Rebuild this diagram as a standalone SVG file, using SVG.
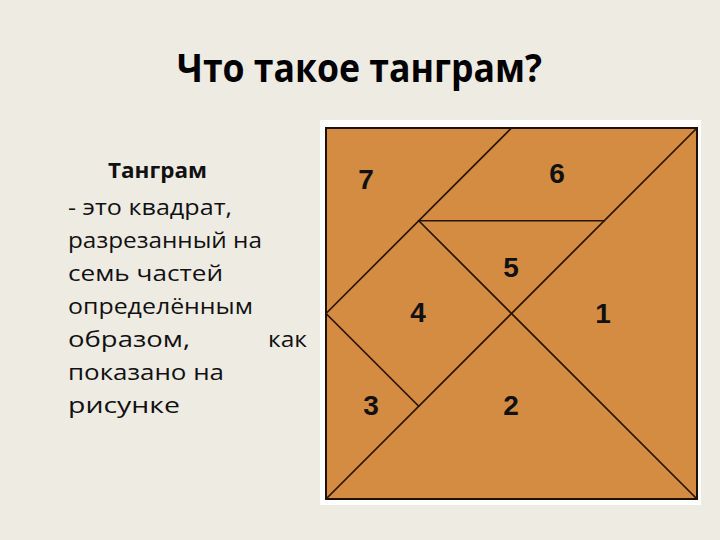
<svg xmlns="http://www.w3.org/2000/svg" width="720" height="540" viewBox="0 0 720 540">
<style>
.title{font-family:"Open Sans","Noto Sans",sans-serif;font-weight:700;font-size:40px;fill:#000}
.body{font-family:"Open Sans","Noto Sans",sans-serif;font-size:21px;fill:#111}
.bold{font-weight:700}
.num{font-family:"Liberation Sans",Arial,sans-serif;font-weight:700;font-size:28px;fill:#111;text-anchor:middle}
.cut{stroke:#2a1503;stroke-width:1.7;fill:none;stroke-linecap:round}
</style>
<rect width="720" height="540" fill="#EEEBE3"/>
<text class="title" x="177" y="82" textLength="365" lengthAdjust="spacingAndGlyphs">Что такое танграм?</text>
<g id="description">
<text class="body bold" x="108" y="178" textLength="99" lengthAdjust="spacingAndGlyphs">Танграм</text>
<text class="body" x="68" y="215" textLength="164" lengthAdjust="spacingAndGlyphs">- это квадрат,</text>
<text class="body" x="68" y="248" textLength="194" lengthAdjust="spacingAndGlyphs">разрезанный на</text>
<text class="body" x="68" y="281" textLength="155" lengthAdjust="spacingAndGlyphs">семь частей</text>
<text class="body" x="68" y="314" textLength="185" lengthAdjust="spacingAndGlyphs">определённым</text>
<text class="body" x="68" y="347" textLength="122" lengthAdjust="spacingAndGlyphs">образом,</text>
<text class="body" x="268" y="347" textLength="39" lengthAdjust="spacingAndGlyphs">как</text>
<text class="body" x="68" y="380" textLength="156" lengthAdjust="spacingAndGlyphs">показано на</text>
<text class="body" x="68" y="413" textLength="112" lengthAdjust="spacingAndGlyphs">рисунке</text>
</g>
<g id="tangram">
<rect x="320" y="120" width="381" height="385" fill="#FFFFFF"/>
<rect x="326" y="128" width="371" height="371" fill="#D48C42" stroke="#1e1006" stroke-width="2"/>
</g>
<g id="connectors">
<line class="cut" x1="697" y1="128" x2="326" y2="499"/>
<line class="cut" x1="511.5" y1="128" x2="326" y2="313.5"/>
<line class="cut" x1="418.75" y1="220.75" x2="604.25" y2="220.75"/>
<line class="cut" x1="418.75" y1="220.75" x2="697" y2="499"/>
<line class="cut" x1="326" y1="313.5" x2="418.75" y2="406.25"/>
</g>
<g id="piece-1"><text class="num" x="603" y="323">1</text></g>
<g id="piece-2"><text class="num" x="511" y="415">2</text></g>
<g id="piece-3"><text class="num" x="371" y="415">3</text></g>
<g id="piece-4"><text class="num" x="418" y="322">4</text></g>
<g id="piece-5"><text class="num" x="511" y="277">5</text></g>
<g id="piece-6"><text class="num" x="557" y="183">6</text></g>
<g id="piece-7"><text class="num" x="366" y="189">7</text></g>
</svg>
